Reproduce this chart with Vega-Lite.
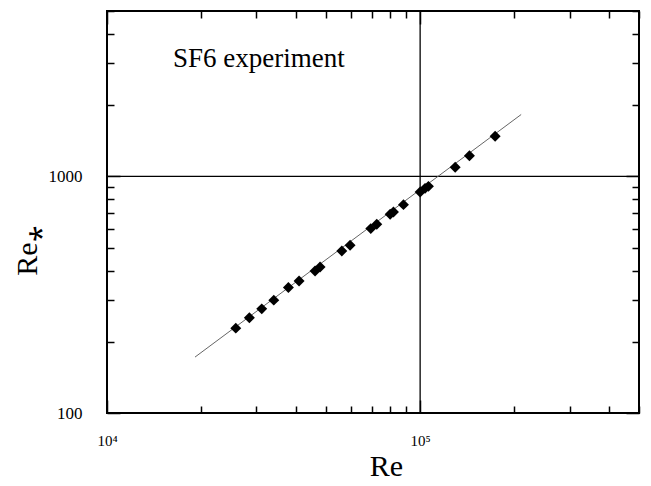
{
  "$schema": "https://vega.github.io/schema/vega-lite/v6.json",
  "width": 532,
  "height": 402,
  "autosize": {"type": "none"},
  "padding": {"left": 107, "top": 11, "right": 12, "bottom": 73},
  "background": "white",
  "view": {"stroke": "black", "strokeWidth": 2},
  "config": {
    "font": "Liberation Serif",
    "axis": {"grid": false, "domain": false, "labelFont": "Liberation Serif", "titleFont": "Liberation Serif", "labelColor": "black", "titleColor": "black", "titleFontWeight": "normal", "tickColor": "black", "tickWidth": 1.5, "labelFlush": false, "labelOverlap": false}
  },
  "datasets": {
    "pts": [
      {"Re": 25780, "Rs": 228.4},
      {"Re": 28490, "Rs": 252.5},
      {"Re": 31200, "Rs": 275.5},
      {"Re": 34090, "Rs": 299.9},
      {"Re": 37960, "Rs": 339.2},
      {"Re": 41060, "Rs": 361.6},
      {"Re": 46180, "Rs": 398.5},
      {"Re": 47920, "Rs": 414.3},
      {"Re": 56220, "Rs": 484.1},
      {"Re": 59750, "Rs": 511.5},
      {"Re": 69570, "Rs": 601.6},
      {"Re": 72700, "Rs": 627.3},
      {"Re": 80220, "Rs": 691.2},
      {"Re": 82180, "Rs": 706.8},
      {"Re": 88470, "Rs": 759.6},
      {"Re": 100000, "Rs": 858.6},
      {"Re": 103700, "Rs": 890.0},
      {"Re": 106300, "Rs": 907.5},
      {"Re": 129400, "Rs": 1094},
      {"Re": 143700, "Rs": 1223},
      {"Re": 173600, "Rs": 1479}
    ],
    "fit": [
      {"Re": 19100, "Rs": 172.3},
      {"Re": 210200, "Rs": 1826}
    ],
    "note": [
      {"Re": 16250, "Rs": 2911, "label": "SF6 experiment"}
    ],
    "vline": [{"Re": 100000}],
    "hline": [{"Rs": 1000}]
  },
  "layer": [
    {
      "data": {"name": "vline"},
      "mark": {"type": "rule", "color": "black", "strokeWidth": 1.3},
      "encoding": {
        "x": {"field": "Re", "type": "quantitative", "scale": {"type": "log", "domain": [10000, 500000], "nice": false}, "axis": null}
      }
    },
    {
      "data": {"name": "hline"},
      "mark": {"type": "rule", "color": "black", "strokeWidth": 1.3},
      "encoding": {
        "y": {"field": "Rs", "type": "quantitative", "scale": {"type": "log", "domain": [100, 5000], "nice": false}, "axis": null}
      }
    },
    {
      "data": {"name": "fit"},
      "mark": {"type": "line", "color": "#666666", "strokeWidth": 1},
      "encoding": {
        "x": {"field": "Re", "type": "quantitative", "scale": {"type": "log", "domain": [10000, 500000], "nice": false},
          "title": "Re",
          "axis": {
            "orient": "bottom",
            "values": [10000, 100000],
            "labelExpr": "datum.value == 10000 ? '10⁴' : '10⁵'",
            "labelFontSize": 15,
            "labelPadding": 33,
            "tickSize": -13,
            "titleFontSize": 30,
            "titleX": 279,
            "titleY": 62,
            "titleBaseline": "alphabetic"
          }
        },
        "y": {"field": "Rs", "type": "quantitative", "scale": {"type": "log", "domain": [100, 5000], "nice": false},
          "title": "Re⁎",
          "axis": {
            "orient": "left",
            "values": [100, 1000],
            "labelExpr": "datum.value == 100 ? '100' : '1000'",
            "labelFontSize": 17,
            "labelPadding": 38,
            "tickSize": -13,
            "titleFontSize": 30,
            "titleAngle": -90,
            "titleX": -71,
            "titleY": 239,
            "titleAlign": "center",
            "titleBaseline": "alphabetic"
          }
        }
      }
    },
    {
      "data": {"name": "fit"},
      "mark": {"type": "line", "opacity": 0},
      "encoding": {
        "x": {"field": "Re", "type": "quantitative", "scale": {"type": "log", "domain": [10000, 500000], "nice": false},
          "axis": {"orient": "bottom", "title": null, "labels": false, "tickSize": -7,
            "values": [20000, 30000, 40000, 50000, 60000, 70000, 80000, 90000, 200000, 300000, 400000, 500000]}
        },
        "y": {"field": "Rs", "type": "quantitative", "scale": {"type": "log", "domain": [100, 5000], "nice": false},
          "axis": {"orient": "left", "title": null, "labels": false, "tickSize": -7,
            "values": [200, 300, 400, 500, 600, 700, 800, 900, 2000, 3000, 4000, 5000]}
        }
      }
    },
    {
      "data": {"name": "fit"},
      "mark": {"type": "line", "opacity": 0},
      "encoding": {
        "x": {"field": "Re", "type": "quantitative", "scale": {"type": "log", "domain": [10000, 500000], "nice": false},
          "axis": {"orient": "top", "title": null, "labels": false, "tickSize": -13, "values": [10000, 100000]}
        },
        "y": {"field": "Rs", "type": "quantitative", "scale": {"type": "log", "domain": [100, 5000], "nice": false},
          "axis": {"orient": "right", "title": null, "labels": false, "tickSize": -13, "values": [100, 1000]}
        }
      }
    },
    {
      "data": {"name": "fit"},
      "mark": {"type": "line", "opacity": 0},
      "encoding": {
        "x": {"field": "Re", "type": "quantitative", "scale": {"type": "log", "domain": [10000, 500000], "nice": false},
          "axis": {"orient": "top", "title": null, "labels": false, "tickSize": -7,
            "values": [20000, 30000, 40000, 50000, 60000, 70000, 80000, 90000, 200000, 300000, 400000, 500000]}
        },
        "y": {"field": "Rs", "type": "quantitative", "scale": {"type": "log", "domain": [100, 5000], "nice": false},
          "axis": {"orient": "right", "title": null, "labels": false, "tickSize": -7,
            "values": [200, 300, 400, 500, 600, 700, 800, 900, 2000, 3000, 4000, 5000]}
        }
      }
    },
    {
      "data": {"name": "pts"},
      "mark": {"type": "point", "shape": "diamond", "filled": true, "color": "black", "opacity": 1, "size": 120},
      "encoding": {
        "x": {"field": "Re", "type": "quantitative", "scale": {"type": "log", "domain": [10000, 500000], "nice": false}, "axis": null},
        "y": {"field": "Rs", "type": "quantitative", "scale": {"type": "log", "domain": [100, 5000], "nice": false}, "axis": null}
      }
    },
    {
      "data": {"name": "note"},
      "mark": {"type": "text", "font": "Liberation Serif", "fontSize": 27, "align": "left", "baseline": "alphabetic", "color": "black"},
      "encoding": {
        "x": {"field": "Re", "type": "quantitative", "scale": {"type": "log", "domain": [10000, 500000], "nice": false}, "axis": null},
        "y": {"field": "Rs", "type": "quantitative", "scale": {"type": "log", "domain": [100, 5000], "nice": false}, "axis": null},
        "text": {"field": "label"}
      }
    }
  ],
  "resolve": {"axis": {"x": "independent", "y": "independent"}}
}
